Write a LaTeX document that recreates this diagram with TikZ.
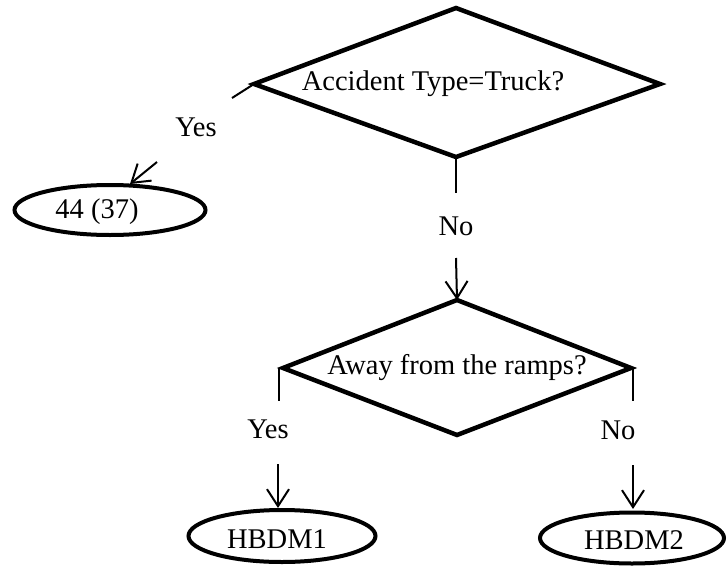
\documentclass[tikz,border=0pt]{standalone}
\usepackage{fontspec}
\setmainfont{Liberation Serif}
\usetikzlibrary{arrows.meta,shapes.geometric}
\begin{document}
\begin{tikzpicture}[x=1pt,y=-1pt,
  decision/.style={line width=4.5pt,line join=miter},
  leaf/.style={draw,ellipse,line width=4pt,inner sep=0pt},
  link/.style={line width=2pt},
  arrowlink/.style={line width=2pt,-{Straight Barb[length=17pt,width=22pt,line width=2pt]}},
  txt/.style={font=\fontsize{28.5}{34}\selectfont,inner sep=0pt},
]
\useasboundingbox (0,0) rectangle (728,565);

% first decision
\coordinate (d1t) at (456,8);
\coordinate (d1l) at (254,84);
\coordinate (d1r) at (660,84);
\coordinate (d1b) at (456,157);
\draw[decision] (d1t) -- (d1r) -- (d1b) -- (d1l) -- cycle;
\node[txt] (q1) at (433,84) {Accident Type=Truck?};

% second decision
\coordinate (d2t) at (457,300);
\coordinate (d2l) at (283,368);
\coordinate (d2r) at (631,368);
\coordinate (d2b) at (457,435);
\draw[decision] (d2t) -- (d2r) -- (d2b) -- (d2l) -- cycle;
\node[txt] (q2) at (457,368) {Away from the ramps?};

% leaves
\node[leaf,minimum width=191pt,minimum height=50pt] (e1) at (110,210) {};
\node[txt] (t1) at (97,212) {44 (37)};
\node[leaf,minimum width=187pt,minimum height=52pt] (e2) at (282,536) {};
\node[txt] (t2) at (277,539) {HBDM1};
\node[leaf,minimum width=184pt,minimum height=51pt] (e3) at (632,538) {};
\node[txt] (t3) at (634,540) {HBDM2};

% branch labels
\node[txt] (y1) at (196,127) {Yes};
\node[txt] (n1) at (456,226) {No};
\node[txt] (y2) at (268,429) {Yes};
\node[txt] (n2) at (618,430) {No};

% connectors
\coordinate (a1) at (232,98);
\draw[link] (d1l) -- (a1);
\coordinate (a2) at (157,162);
\coordinate (a3) at (130,184);
\draw[arrowlink] (a2) -- (a3);

\coordinate (b1) at (456,193);
\draw[link] (d1b) -- (b1);
\coordinate (b2) at (456,258);
\draw[arrowlink] (b2) -- (d2t);

\coordinate (c0) at (279,368);
\coordinate (c1) at (279,401);
\draw[link] (c0) -- (c1);
\coordinate (c2) at (278,464);
\coordinate (c3) at (278,508);
\draw[arrowlink] (c2) -- (c3);

\coordinate (g0) at (633,368);
\coordinate (g1) at (633,401);
\draw[link] (g0) -- (g1);
\coordinate (g2) at (633,465);
\coordinate (g3) at (633,509);
\draw[arrowlink] (g2) -- (g3);
\end{tikzpicture}
\end{document}
